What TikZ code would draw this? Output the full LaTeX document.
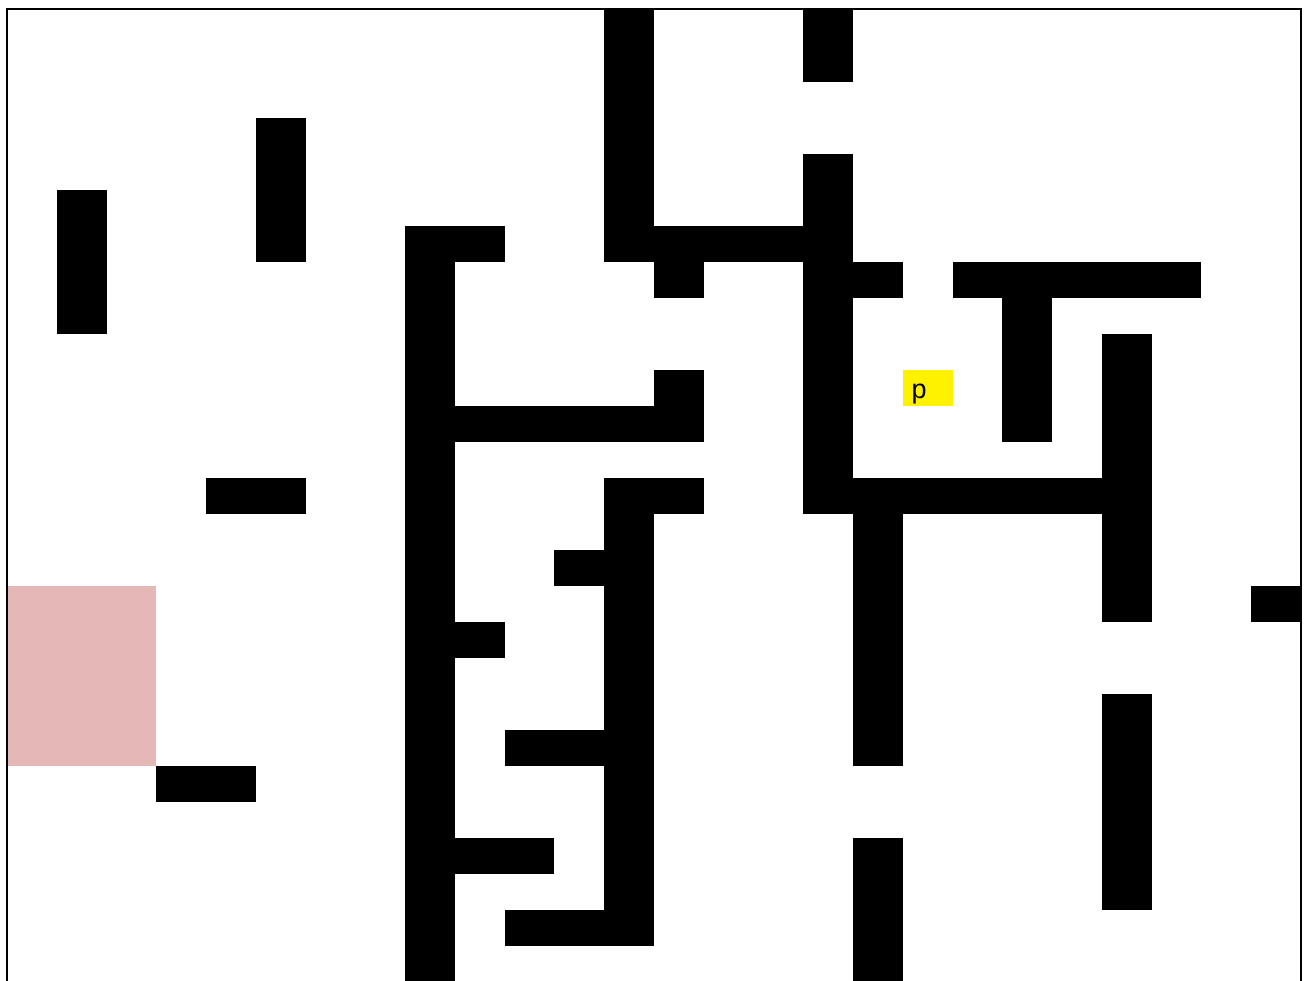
\documentclass[tikz,border=0pt]{standalone}
\usepackage{fontspec}
\setmainfont{Liberation Sans}
\definecolor{goalpink}{RGB}{229,184,184}
\newcommand\cw{49.769}
\newcommand\rh{36}
\newcommand\blk[4]{\fill[wallfill] (7+#1*\cw,10+#2*\rh) rectangle (7+#3*\cw,10+#4*\rh);}
\tikzset{wallfill/.style={fill=black}, framestyle/.style={draw=black,line width=2pt}}
\begin{document}
\begin{tikzpicture}[x=1pt,y=-1pt]
\useasboundingbox (0,0) rectangle (1310,981);
\clip (0,0) rectangle (1310,981);
\fill[white] (0,0) rectangle (1310,981);
% goal region
\fill[goalpink] (7,10+16*\rh) rectangle (7+3*\cw,10+21*\rh);
% yellow cell with label
\fill[yellow] (7+18*\cw,10+10*\rh) rectangle (7+19*\cw,10+11*\rh);
\node[anchor=base west,inner sep=0pt,font=\fontsize{27}{32}\selectfont] (plabel) at (911.5,398.5) {p};
% walls
\blk{12}{0}{13}{7}
\blk{13}{6}{16}{7}
\blk{13}{7}{14}{8}
\blk{16}{0}{17}{2}
\blk{16}{4}{17}{14}
\blk{17}{7}{18}{8}
\blk{17}{13}{22}{14}
\blk{5}{3}{6}{7}
\blk{1}{5}{2}{9}
\blk{8}{6}{9}{27}
\blk{9}{6}{10}{7}
\blk{9}{11}{14}{12}
\blk{13}{10}{14}{11}
\blk{9}{17}{10}{18}
\blk{9}{23}{11}{24}
\blk{19}{7}{24}{8}
\blk{20}{8}{21}{12}
\blk{22}{9}{23}{17}
\blk{4}{13}{6}{14}
\blk{12}{13}{14}{14}
\blk{12}{14}{13}{26}
\blk{11}{15}{12}{16}
\blk{10}{20}{12}{21}
\blk{10}{25}{12}{26}
\blk{17}{14}{18}{21}
\blk{25}{16}{26}{17}
\blk{3}{21}{5}{22}
\blk{22}{19}{23}{25}
\blk{17}{23}{18}{27}
% frame
\draw[framestyle] (7,990) -- (7,9) -- (1301,9) -- (1301,990);
\end{tikzpicture}
\end{document}
